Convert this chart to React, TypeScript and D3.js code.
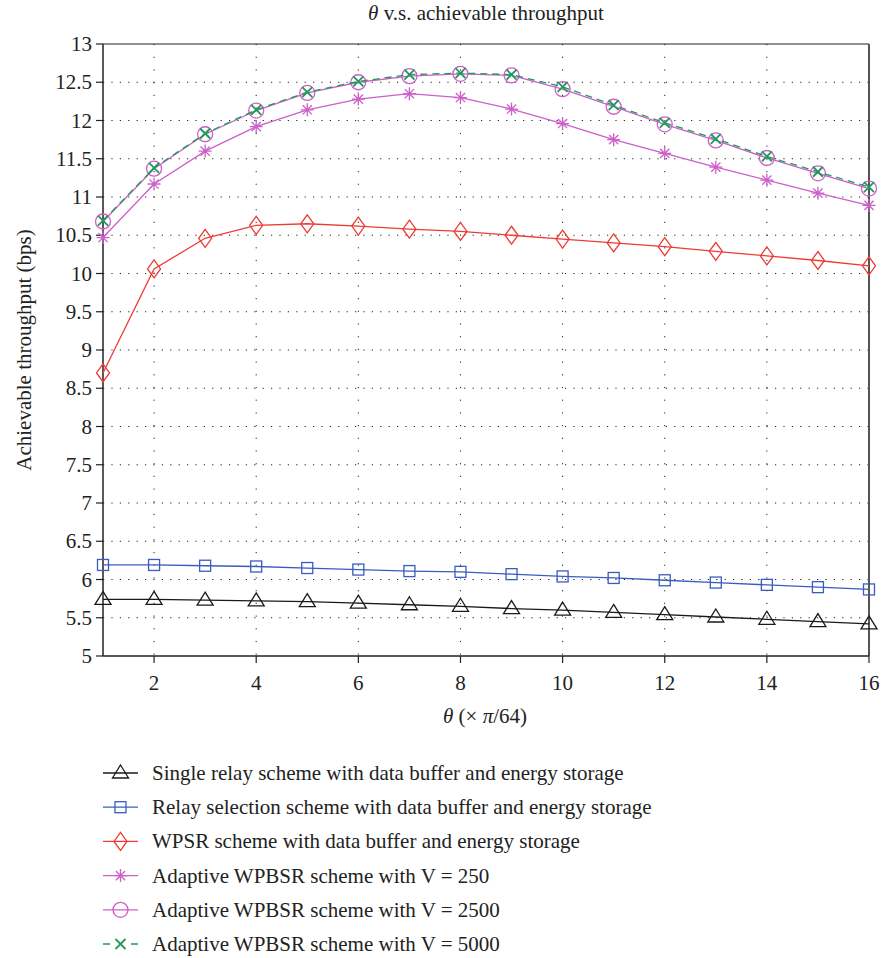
import React from "react";
import * as d3 from "d3";

const thetaValues = [1, 2, 3, 4, 5, 6, 7, 8, 9, 10, 11, 12, 13, 14, 15, 16];
const singleRelay = [5.74, 5.74, 5.73, 5.72, 5.71, 5.69, 5.67, 5.65, 5.62, 5.6, 5.57, 5.54, 5.51, 5.48, 5.45, 5.42];
const relaySelection = [6.19, 6.19, 6.18, 6.17, 6.15, 6.13, 6.11, 6.1, 6.07, 6.04, 6.02, 5.99, 5.96, 5.93, 5.9, 5.87];
const wpsr = [8.7, 10.06, 10.46, 10.63, 10.65, 10.62, 10.58, 10.55, 10.5, 10.45, 10.4, 10.35, 10.29, 10.23, 10.17, 10.1];
const adaptive250 = [10.47, 11.17, 11.6, 11.92, 12.14, 12.28, 12.35, 12.3, 12.15, 11.96, 11.75, 11.57, 11.39, 11.22, 11.05, 10.89];
const adaptive2500 = [10.68, 11.37, 11.82, 12.13, 12.36, 12.5, 12.58, 12.61, 12.59, 12.41, 12.18, 11.95, 11.74, 11.51, 11.31, 11.11];
const adaptive5000 = [10.69, 11.38, 11.83, 12.14, 12.37, 12.51, 12.6, 12.62, 12.6, 12.44, 12.2, 11.97, 11.76, 11.53, 11.33, 11.13];

const xTicks = [2, 4, 6, 8, 10, 12, 14, 16];
const yTicks = [5, 5.5, 6, 6.5, 7, 7.5, 8, 8.5, 9, 9.5, 10, 10.5, 11, 11.5, 12, 12.5, 13];

const seriesNames = [
  "Single relay scheme with data buffer and energy storage",
  "Relay selection scheme with data buffer and energy storage",
  "WPSR scheme with data buffer and energy storage",
  "Adaptive WPBSR scheme with V = 250",
  "Adaptive WPBSR scheme with V = 2500",
  "Adaptive WPBSR scheme with V = 5000",
];

type Marker = "triangle" | "square" | "diamond" | "star" | "circle" | "x";
const series: { name: string; values: number[]; color: string; marker: Marker; dash?: string }[] = [
  { name: seriesNames[0], values: singleRelay, color: "#1a1a1a", marker: "triangle" },
  { name: seriesNames[1], values: relaySelection, color: "#3a5cc0", marker: "square" },
  { name: seriesNames[2], values: wpsr, color: "#ee3b35", marker: "diamond" },
  { name: seriesNames[3], values: adaptive250, color: "#cc5fc8", marker: "star" },
  { name: seriesNames[4], values: adaptive2500, color: "#cc5fc8", marker: "circle" },
  { name: seriesNames[5], values: adaptive5000, color: "#1f9a5a", marker: "x", dash: "7,5" },
];

const FONT = '"Liberation Serif", "Times New Roman", serif';
const FS = 21;

function MarkerShape({ type, x, y, color }: { type: Marker; x: number; y: number; color: string }) {
  const sw = 1.3;
  switch (type) {
    case "triangle":
      return <path d={`M${x},${y - 8} L${x + 8},${y + 5} L${x - 8},${y + 5} Z`} fill="none" stroke={color} strokeWidth={sw} />;
    case "square":
      return <rect x={x - 5.5} y={y - 5.5} width={11} height={11} fill="none" stroke={color} strokeWidth={sw} />;
    case "diamond":
      return <path d={`M${x},${y - 9} L${x + 6.5},${y} L${x},${y + 9} L${x - 6.5},${y} Z`} fill="none" stroke={color} strokeWidth={sw} />;
    case "star": {
      const r = 6.5;
      const d = [0, 45, 90, 135].map((a) => {
        const rad = (a * Math.PI) / 180;
        const dx = r * Math.cos(rad), dy = r * Math.sin(rad);
        return `M${x - dx},${y - dy} L${x + dx},${y + dy}`;
      }).join(" ");
      return <path d={d} stroke={color} strokeWidth={sw} fill="none" />;
    }
    case "circle":
      return <circle cx={x} cy={y} r={7.5} fill="none" stroke={color} strokeWidth={sw} />;
    case "x":
      return <path d={`M${x - 5},${y - 5} L${x + 5},${y + 5} M${x - 5},${y + 5} L${x + 5},${y - 5}`} stroke={color} strokeWidth={1.8} fill="none" />;
  }
  return null;
}

export default function App() {
  const width = 882;
  const height = 958;
  const left = 103, right = 869, top = 44, bottom = 656;
  const x = d3.scaleLinear().domain([1, 16]).range([left, right]);
  const y = d3.scaleLinear().domain([5, 13]).range([bottom, top]);
  const line = d3.line<number>().x((_, i) => x(thetaValues[i])).y((d) => y(d));

  const legendY0 = 773;
  const legendStep = 34.2;
  const ts = { fontFamily: FONT, fontSize: FS, fill: "#222" } as React.CSSProperties;

  return (
    <svg width={width} height={height} style={{ position: "absolute", left: 0, top: 0, background: "#fff" }}>
      <rect width={width} height={height} fill="#fff" />
      {/* grid */}
      {yTicks.filter((t) => t !== 5 && t !== 13).map((t) => (
        <line key={"gy" + t} x1={left} x2={right} y1={y(t)} y2={y(t)} stroke="#222" strokeWidth={1} strokeDasharray="1.2,7.2" />
      ))}
      {xTicks.filter((t) => t !== 16).map((t) => (
        <line key={"gx" + t} x1={x(t)} x2={x(t)} y1={top} y2={bottom} stroke="#222" strokeWidth={1} strokeDasharray="1.2,11.5" />
      ))}
      {/* axes box */}
      <line x1={left} x2={right} y1={top} y2={top} stroke="#222" strokeWidth={1.2} />
      <line x1={right} x2={right} y1={top} y2={bottom} stroke="#555" strokeWidth={2} />
      <line x1={left} x2={left} y1={top} y2={bottom} stroke="#222" strokeWidth={1.5} />
      <line x1={left} x2={right} y1={bottom} y2={bottom} stroke="#222" strokeWidth={1.5} />
      {/* y ticks */}
      {yTicks.map((t) => (
        <g key={"yt" + t}>
          <line x1={left - 7} x2={left} y1={y(t)} y2={y(t)} stroke="#222" strokeWidth={1.2} />
          <text x={left - 11} y={y(t)} dy="0.34em" textAnchor="end" style={ts}>{t}</text>
        </g>
      ))}
      {/* x ticks */}
      {xTicks.map((t) => (
        <g key={"xt" + t}>
          <line x1={x(t)} x2={x(t)} y1={bottom} y2={bottom + 7} stroke="#222" strokeWidth={1.2} />
          <text x={x(t)} y={690} textAnchor="middle" style={ts}>{t}</text>
        </g>
      ))}
      {/* title */}
      <text x={(left + right) / 2} y={20} textAnchor="middle" style={ts}>
        <tspan fontStyle="italic">θ</tspan> v.s. achievable throughput
      </text>
      {/* axis labels */}
      <text x={485} y={723} textAnchor="middle" style={ts}>
        <tspan fontStyle="italic">θ</tspan> (× <tspan fontStyle="italic">π</tspan>/64)
      </text>
      <text transform={`translate(31,${(top + bottom) / 2}) rotate(-90)`} textAnchor="middle" style={ts}>
        Achievable throughput (bps)
      </text>
      {/* series */}
      {series.map((s) => (
        <g key={s.name}>
          <path d={line(s.values) || ""} fill="none" stroke={s.color} strokeWidth={1.3} strokeDasharray={s.dash} />
          {s.values.map((v, i) => (
            <MarkerShape key={i} type={s.marker} x={x(thetaValues[i])} y={y(v)} color={s.color} />
          ))}
        </g>
      ))}
      {/* legend */}
      {series.map((s, i) => {
        const ly = legendY0 + i * legendStep;
        return (
          <g key={"lg" + i}>
            <line x1={103} x2={138} y1={ly} y2={ly} stroke={s.color} strokeWidth={1.3} strokeDasharray={s.dash ? "7,21" : undefined} />
            <MarkerShape type={s.marker} x={120.5} y={ly} color={s.color} />
            <text x={152} y={ly} dy="0.33em" style={ts}>{s.name}</text>
          </g>
        );
      })}
    </svg>
  );
}
